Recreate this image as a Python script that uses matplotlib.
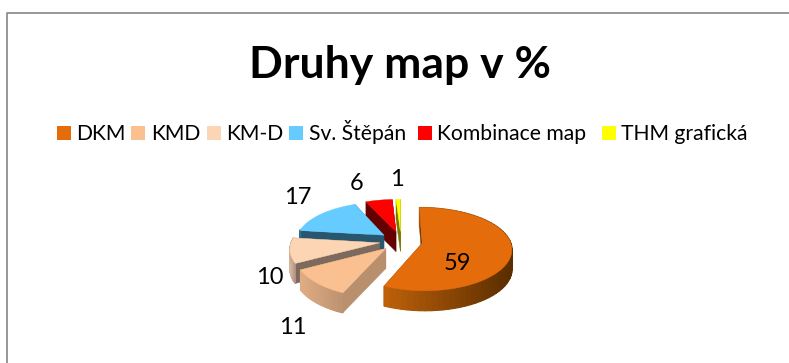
import numpy as np
import matplotlib
matplotlib.use('Agg')
import matplotlib.pyplot as plt
from matplotlib.colors import to_rgb

labels = ['DKM', 'KMD', 'KM-D', 'Sv. Štěpán', 'Kombinace map', 'THM grafická']
values = [59, 11, 10, 17, 6, 1]
colors = ['#E46C0A', '#FAC090', '#FCD5B5', '#66CCFF', '#FF0000', '#FFFF00']
# wall shade left -> right, and colour of the cut faces
wall_left = ['#C0620A', '#E0AC84', '#D8B69C', '#2F6C8C', '#8C0000', '#A0A000']
wall_right = ['#5A2D00', '#BC9270', '#A89080', '#28566E', '#640000', '#787800']
cut_faces = ['#7A3C00', '#B8906E', '#7E6A5C', '#28566E', '#640000', '#787800']
legend_box_x = [57, 131, 207, 289, 418, 602]
legend_text_x = [76, 151, 226, 309, 437, 621]
value_pos = [(457, 264), (293, 328), (270, 278), (298, 198), (357, 183), (397, 179)]

plt.rcParams['font.family'] = ['Lato', 'DejaVu Sans']

fig = plt.figure(figsize=(7.89, 3.63), dpi=100)
ax = fig.add_axes([0, 0, 1, 1])
ax.set_xlim(0, 789)
ax.set_ylim(363, 0)
ax.axis('off')

cx, cy = 401, 241
rx = 88
explode = 0.245
height = 20


def project(u, v, drop=0):
    # ground plane to screen, the back of the pie is a bit smaller
    x = cx + rx * u * (1 - 0.13 * v)
    y = cy - v * (41 - 6 * v) + drop
    return x, y


def mix(a, b, t):
    a, b = np.array(to_rgb(a)), np.array(to_rgb(b))
    return tuple(a + (b - a) * t)


def draw_slice(i, start, end):
    mid = (start + end) / 2
    ou = explode * np.sin(mid)
    ov = explode * np.cos(mid)
    ang = np.linspace(start, end, 60)
    us = ou + np.sin(ang)
    vs = ov + np.cos(ang)
    x0, y0 = project(ou, ov)
    xs, ys = project(us, vs)

    # cut faces
    for k in (0, -1):
        ax.fill([x0, xs[k], xs[k], x0], [y0, ys[k], ys[k] + height, y0 + height],
                color=cut_faces[i], lw=0.3, zorder=i_order[i])
    # outer wall, shaded in strips
    xmin, xmax = xs.min(), xs.max()
    for k in range(len(ang) - 1):
        if np.cos(ang[k]) > 0.15 and i > 0:
            continue
        t = (xs[k] - xmin) / max(xmax - xmin, 1)
        c = mix(wall_left[i], wall_right[i], t)
        ax.fill([xs[k], xs[k + 1], xs[k + 1], xs[k]],
                [ys[k], ys[k + 1], ys[k + 1] + height, ys[k] + height],
                color=c, lw=0.9, zorder=i_order[i])
    # top
    ax.fill(np.r_[x0, xs], np.r_[y0, ys], color=colors[i], lw=0.3, zorder=i_order[i] + 0.5)


# back slices first, front slices over them
i_order = {5: 1, 4: 2, 3: 3, 2: 4, 1: 5, 0: 6}
edges = np.cumsum([0] + values) / sum(values) * 2 * np.pi
for i in range(len(values)):
    draw_slice(i, edges[i], edges[i + 1])

# frame of the chart area
ax.plot([7, 7, 789], [363, 13, 13], color='#868686', lw=1.2, zorder=0)

ax.text(400, 78, 'Druhy map v %', fontsize=32, fontweight='bold', ha='center', va='baseline')

for i in range(len(labels)):
    ax.fill([legend_box_x[i], legend_box_x[i] + 14, legend_box_x[i] + 14, legend_box_x[i]],
            [126, 126, 140, 140], color=colors[i], lw=0)
    ax.text(legend_text_x[i], 139.5, labels[i], fontsize=15.2, ha='left', va='baseline')

for i in range(len(values)):
    ax.text(value_pos[i][0], value_pos[i][1], str(values[i]), fontsize=17,
            ha='center', va='center', zorder=10)

fig.savefig('out.png', dpi=100)
